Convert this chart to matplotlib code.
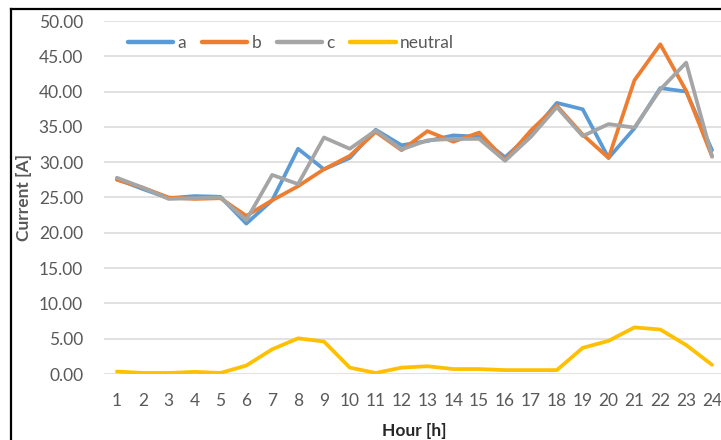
import numpy as np
import matplotlib.pyplot as plt
from matplotlib.lines import Line2D

# hourly phase and neutral currents
hours = list(range(1, 25))
phase_a = [27.6, 26.2, 24.9, 25.2, 25.1, 21.3, 24.6, 31.9, 29.0, 30.6, 34.6, 32.4,
           33.0, 33.8, 33.6, 30.7, 34.0, 38.4, 37.5, 30.6, 34.8, 40.5, 40.0, 31.7]
phase_b = [27.5, 26.4, 25.0, 24.8, 24.9, 22.4, 24.6, 26.6, 29.0, 30.9, 34.3, 31.7,
           34.4, 32.9, 34.2, 30.3, 34.5, 38.0, 33.9, 30.6, 41.6, 46.7, 40.1, 30.8]
phase_c = [27.8, 26.4, 24.8, 24.9, 25.0, 21.8, 28.2, 26.9, 33.5, 31.9, 34.5, 31.8,
           33.1, 33.3, 33.3, 30.2, 33.6, 37.8, 33.7, 35.4, 34.9, 40.3, 44.1, 30.8]
neutral = [0.35, 0.15, 0.15, 0.3, 0.15, 1.2, 3.5, 5.05, 4.6, 0.9, 0.15, 0.9,
           1.1, 0.7, 0.7, 0.55, 0.55, 0.55, 3.7, 4.7, 6.6, 6.3, 4.1, 1.3]

series = [("a", phase_a, "#5B9BD5"),
          ("b", phase_b, "#ED7D31"),
          ("c", phase_c, "#A5A5A5"),
          ("neutral", neutral, "#FFC000")]

font = ["Lato", "DejaVu Sans"]
txt = "#595959"
fs = 12.5

fig = plt.figure(figsize=(7.21, 4.40), dpi=100)
ax = fig.add_axes([104 / 721, 66 / 440, 621 / 721, 353 / 440])

for name, vals, col in series:
    ax.plot(hours, vals, color=col, lw=2.7, label=name, solid_capstyle="round")

ax.set_xlim(0.5, 24.5)
ax.set_ylim(0, 50)
ax.set_xticks(hours)
ax.set_yticks(np.arange(0, 50.1, 5))
ax.set_yticklabels([f"{v:.2f}" for v in np.arange(0, 50.1, 5)])
ax.grid(axis="y", color="#D9D9D9", lw=1.1)
ax.set_axisbelow(True)
for s in ax.spines.values():
    s.set_visible(False)
ax.tick_params(length=0, labelcolor=txt, labelsize=fs)
ax.tick_params(axis="y", pad=15)
ax.tick_params(axis="x", pad=14)
for lab in ax.get_xticklabels() + ax.get_yticklabels():
    lab.set_family(font)

ax.set_xlabel("Hour [h]", fontsize=fs, fontweight="bold", color="#262626",
              family=font, labelpad=10)
ax.set_ylabel("Current [A]", fontsize=fs, fontweight="bold", color=txt,
              family=font, labelpad=5)

leg = ax.legend(loc="center left", bbox_to_anchor=(0.014, 0.938), ncol=4, frameon=False,
                handlelength=2.6, handletextpad=0.25, columnspacing=0.9,
                prop={"family": font, "size": fs})
for t in leg.get_texts():
    t.set_color(txt)
for h in leg.get_lines():
    h.set_linewidth(3.2)

# black frame along top and left edges
fig.add_artist(Line2D([11 / 721, 11 / 721], [0, 1 - 9 / 440], color="black", lw=1.6,
                      transform=fig.transFigure))
fig.add_artist(Line2D([11 / 721, 1], [1 - 9 / 440, 1 - 9 / 440], color="black", lw=1.6,
                      transform=fig.transFigure))

fig.savefig("out.png", dpi=100)
